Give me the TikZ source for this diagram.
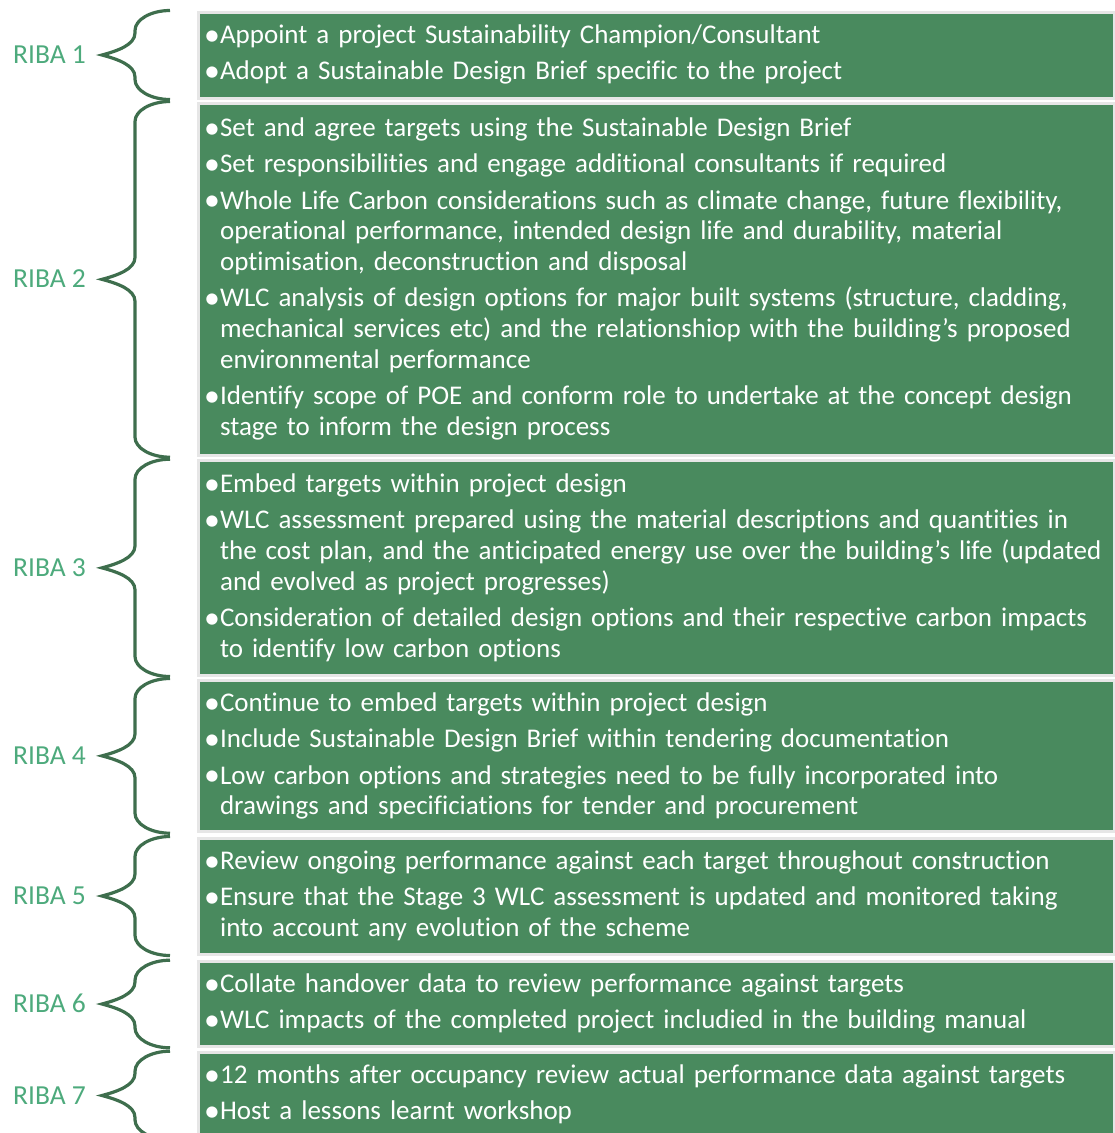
\documentclass[tikz,border=0pt]{standalone}
\usepackage{fontspec}
\usepackage{graphicx}
\setmainfont{Carlito}[Ligatures=NoCommon]
\usetikzlibrary{calc}

\definecolor{boxgreen}{RGB}{73,138,94}
\definecolor{lblgreen}{RGB}{77,170,124}
\definecolor{bracegreen}{RGB}{62,110,77}
\definecolor{boxrim}{RGB}{230,230,230}

% bullet paragraphs with a hanging indent as wide as the bullet
\newlength\bulw
\newcommand\bdot{\raisebox{-1.6pt}{\scalebox{1.18}{\textbullet}}}
\newcommand\bfirst{\settowidth\bulw{\bdot}\parskip=5.8pt\relax
  \hangindent=\bulw\hangafter=1\bdot}
\newcommand\bitem{\par\hangindent=\bulw\hangafter=1\noindent\bdot}

\tikzset{
  gbox/.style={rectangle, draw=boxrim, line width=3pt, fill=boxgreen,
    inner sep=0pt, anchor=north west, minimum width=916pt},
  txt/.style={anchor=base west, inner sep=0pt, text=white, text width=1000pt,
    font=\fontsize{27}{30.6}\selectfont},
  lbl/.style={anchor=base east, inner sep=0pt, text=lblgreen,
    font=\fontsize{27.5}{30}\selectfont},
  brc/.style={draw=bracegreen, line width=3.2pt},
}

% curly brace to the left of a stage box, with its stage label
\newcommand\stagebrace[2]{%
  \coordinate (#1-top) at ($(#1.north west)+(-26.5,0)$);
  \coordinate (#1-bot) at ($(#1.south west)+(-26.5,0)$);
  \coordinate (#1-tip) at ($(#1.west)+(-94.5,0)$);
  \draw[brc] (#1-top) .. controls +(-19,0) and +(0,-11) .. ($(#1-top)+(-35,20)$)
    -- ($(#1-tip)+(33,-22)$) .. controls +(0,12) and +(15,-4) .. (#1-tip)
    .. controls +(15,4) and +(0,-12) .. ($(#1-tip)+(33,22)$)
    -- ($(#1-bot)+(-35,-20)$) .. controls +(0,11) and +(-19,0) .. (#1-bot);
  \node[lbl] (#1-label) at ($(#1-tip)+(-16,8.5)$) {#2};}

\begin{document}
\begin{tikzpicture}[x=1pt,y=-1pt]
\useasboundingbox (0,0) rectangle (1115,1133);
\clip (0,0) rectangle (1115,1133);

% stage boxes
\node[gbox, minimum height=86pt]    (s1) at (196.5,10.5)   {};
\node[gbox, minimum height=352.7pt] (s2) at (196.5,101.5)  {};
\node[gbox, minimum height=214.3pt] (s3) at (196.5,459.2)  {};
\node[gbox, minimum height=151.7pt] (s4) at (196.5,678.5)  {};
\node[gbox, minimum height=116pt]   (s5) at (196.5,836.5)  {};
\node[gbox, minimum height=84.6pt]  (s6) at (196.5,960.2)  {};
\node[gbox, minimum height=85.6pt]  (s7) at (196.5,1051.2) {};

\stagebrace{s1}{RIBA 1}
\stagebrace{s2}{RIBA 2}
\stagebrace{s3}{RIBA 3}
\stagebrace{s4}{RIBA 4}
\stagebrace{s5}{RIBA 5}
\stagebrace{s6}{RIBA 6}
\stagebrace{s7}{RIBA 7}

% stage contents
\node[txt] (t1) at (204,43.5) {\bfirst Appoint a project Sustainability Champion/Consultant
\bitem Adopt a Sustainable Design Brief specific to the project\par};

\node[txt] (t2) at (204,136.5) {\bfirst Set and agree targets using the Sustainable Design Brief
\bitem Set responsibilities and engage additional consultants if required
\bitem Whole Life Carbon considerations such as climate change, future flexibility,\newline
operational performance, intended design life and durability, material\newline
optimisation, deconstruction and disposal
\bitem WLC analysis of design options for major built systems (structure, cladding,\newline
mechanical services etc) and the relationshiop with the building’s proposed\newline
environmental performance
\bitem Identify scope of POE and conform role to undertake at the concept design\newline
stage to inform the design process\par};

\node[txt] (t3) at (204,492.5) {\bfirst Embed targets within project design
\bitem WLC assessment prepared using the material descriptions and quantities in\newline
the cost plan, and the anticipated energy use over the building’s life (updated\newline
and evolved as project progresses)
\bitem Consideration of detailed design options and their respective carbon impacts\newline
to identify low carbon options\par};

\node[txt] (t4) at (204,711.5) {\bfirst Continue to embed targets within project design
\bitem Include Sustainable Design Brief within tendering documentation
\bitem Low carbon options and strategies need to be fully incorporated into\newline
drawings and specificiations for tender and procurement\par};

\node[txt] (t5) at (204,869.5) {\bfirst Review ongoing performance against each target throughout construction
\bitem Ensure that the Stage 3 WLC assessment is updated and monitored taking\newline
into account any evolution of the scheme\par};

\node[txt] (t6) at (204,992.5) {\bfirst Collate handover data to review performance against targets
\bitem WLC impacts of the completed project includied in the building manual\par};

\node[txt] (t7) at (204,1083.5) {\bfirst 12 months after occupancy review actual performance data against targets
\bitem Host a lessons learnt workshop\par};
\end{tikzpicture}
\end{document}
